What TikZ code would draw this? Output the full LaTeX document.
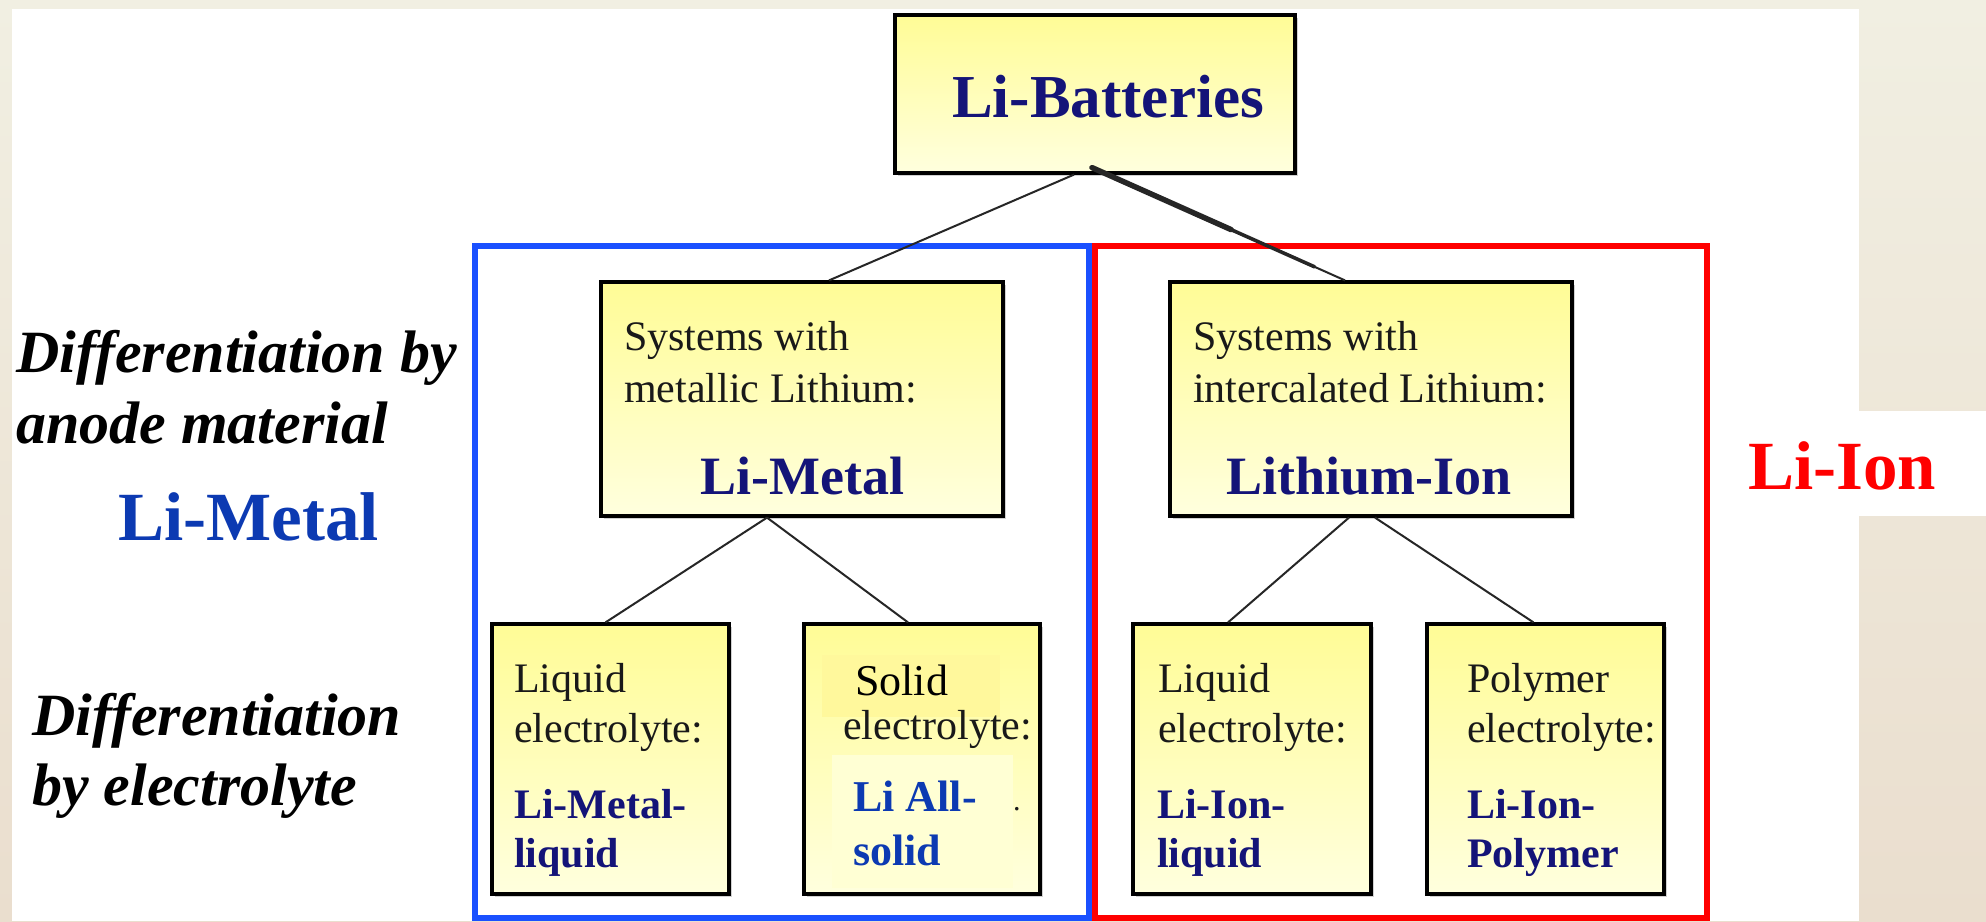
\documentclass[tikz,border=0pt]{standalone}
\usepackage{fontspec}
\setmainfont{Liberation Serif}
\usetikzlibrary{calc,shadows}
\definecolor{boxtop}{RGB}{255,252,150}
\definecolor{boxbot}{RGB}{255,255,222}
\definecolor{navytxt}{RGB}{20,20,120}
\definecolor{bluetxt}{RGB}{12,58,178}
\definecolor{grouptblue}{RGB}{26,80,255}
\definecolor{groupred}{RGB}{255,0,0}
\definecolor{plaintxt}{RGB}{25,25,25}
\definecolor{bgtop}{RGB}{241,239,226}
\definecolor{bgbot}{RGB}{234,222,206}
\definecolor{solidpatch}{RGB}{255,248,156}
\definecolor{palepatch}{RGB}{255,255,212}
\tikzset{
  box/.style={draw=black, line width=3.2pt, top color=boxtop, bottom color=boxbot,
    inner sep=0pt, drop shadow={shadow xshift=2.5pt, shadow yshift=-2.5pt, opacity=0.18, fill=black}},
  conn/.style={line width=2pt, draw=black!85},
  txt/.style={anchor=base west, inner sep=0pt, text=plaintxt, font=\fontsize{42}{50}\selectfont},
  boldtxt/.style={anchor=base west, inner sep=0pt, text=navytxt, font=\bfseries\fontsize{42}{50}\selectfont},
  midbold/.style={anchor=base west, inner sep=0pt, text=navytxt, font=\bfseries\fontsize{54}{60}\selectfont},
  sidelabel/.style={anchor=base west, inner sep=0pt, text=black, font=\bfseries\itshape\fontsize{60}{70}\selectfont},
  biglabel/.style={anchor=base west, inner sep=0pt, font=\bfseries\fontsize{69}{80}\selectfont},
}
\begin{document}
\begin{tikzpicture}[x=1pt,y=-1pt]
% background and margins
\shade[top color=bgtop, bottom color=bgbot] (0,0) rectangle (1986,921);
\useasboundingbox (0,0) rectangle (1986,921);
\fill[white] (12,9) rectangle (1859,921);
\fill[white] (1740,411) rectangle (1986,516);

% group frames
\draw[grouptblue, line width=6pt] (475,246) rectangle (1089,918);
\draw[groupred, line width=6pt] (1095,246) rectangle (1707,918);

% boxes
\node[box, minimum width=400pt, minimum height=158pt] (top) at (1095,94) {};
\node[box, minimum width=402pt, minimum height=234pt] (lm) at (802,399) {};
\node[box, minimum width=402pt, minimum height=234pt] (li) at (1371,399) {};
\node[box, minimum width=237pt, minimum height=270pt] (b1) at (610.5,759) {};
\node[box, minimum width=236pt, minimum height=270pt] (b2) at (922,759) {};
\node[box, minimum width=238pt, minimum height=270pt] (b3) at (1252,759) {};
\node[box, minimum width=237pt, minimum height=270pt] (b4) at (1545.5,759) {};

% connectors
\coordinate (tL) at ([xshift=-21pt]top.south);
\coordinate (tR) at ([xshift=-3pt,yshift=7pt]top.south);
\coordinate (lmN) at ([xshift=27pt]lm.north);
\coordinate (liN) at ([xshift=-26pt]li.north);
\draw[conn] (tL) -- (lmN);
\draw[conn] (tR) -- (liN);
\draw[conn, line width=3.6pt, line cap=round] (tR) -- ($(tR)!0.88!(liN)$);
\draw[conn, line width=5.5pt, line cap=round] (tR) -- ($(tR)!0.55!(liN)$);

\coordinate (lmS) at ([xshift=-35pt]lm.south);
\draw[conn] (lmS) -- ([xshift=-5pt]b1.north);
\draw[conn] (lmS) -- ([xshift=-14pt]b2.north);
\draw[conn] ([xshift=-22pt]li.south) -- ([xshift=-24pt]b3.north);
\draw[conn] ([xshift=4pt]li.south) -- ([xshift=-12pt]b4.north);

% patches inside the Li All-solid box
\fill[solidpatch] (822,655) rectangle (1000,717);
\fill[palepatch] (832,755) rectangle (1013,888);

% box texts
\node[anchor=base west, inner sep=0pt, text=navytxt, font=\bfseries\fontsize{61}{70}\selectfont] (tTitle) at (952,117) {Li-Batteries};

\node[txt] (lmA) at (624,350) {Systems with};
\node[txt] (lmB) at (624,402) {metallic Lithium:};
\node[midbold] (lmC) at (700,494) {Li-Metal};

\node[txt] (liA) at (1193,350) {Systems with};
\node[txt] (liB) at (1193,402) {intercalated Lithium:};
\node[midbold] (liC) at (1226,494) {Lithium-Ion};

\node[txt] (b1A) at (514,692) {Liquid};
\node[txt] (b1B) at (514,742) {electrolyte:};
\node[boldtxt] (b1C) at (514,818) {Li-Metal-};
\node[boldtxt] (b1D) at (514,867) {liquid};

\node[anchor=base west, inner sep=0pt, text=black, font=\fontsize{44}{50}\selectfont] (b2A) at (855,695) {Solid};
\node[txt] (b2B) at (843,739) {electrolyte:};
\node[boldtxt, text=bluetxt, font=\bfseries\fontsize{44}{50}\selectfont] (b2C) at (853,811) {Li All-};
\node[boldtxt, text=bluetxt, font=\bfseries\fontsize{44}{50}\selectfont] (b2D) at (853,865) {solid};
\node[txt, font=\fontsize{30}{30}\selectfont] (b2E) at (1013,810) {.};

\node[txt] (b3A) at (1158,692) {Liquid};
\node[txt] (b3B) at (1158,742) {electrolyte:};
\node[boldtxt] (b3C) at (1157,818) {Li-Ion-};
\node[boldtxt] (b3D) at (1157,867) {liquid};

\node[txt] (b4A) at (1467,692) {Polymer};
\node[txt] (b4B) at (1467,742) {electrolyte:};
\node[boldtxt] (b4C) at (1467,818) {Li-Ion-};
\node[boldtxt] (b4D) at (1467,867) {Polymer};

% side labels
\node[sidelabel] (sA1) at (16,372) {Differentiation by};
\node[sidelabel] (sA2) at (16,443) {anode material};
\node[sidelabel] (sB1) at (32,735) {Differentiation};
\node[sidelabel] (sB2) at (32,805) {by electrolyte};
\node[biglabel, text=bluetxt] (limetal) at (118,540) {Li-Metal};
\node[biglabel, text=groupred] (liion) at (1748,489) {Li-Ion};
\end{tikzpicture}
\end{document}
